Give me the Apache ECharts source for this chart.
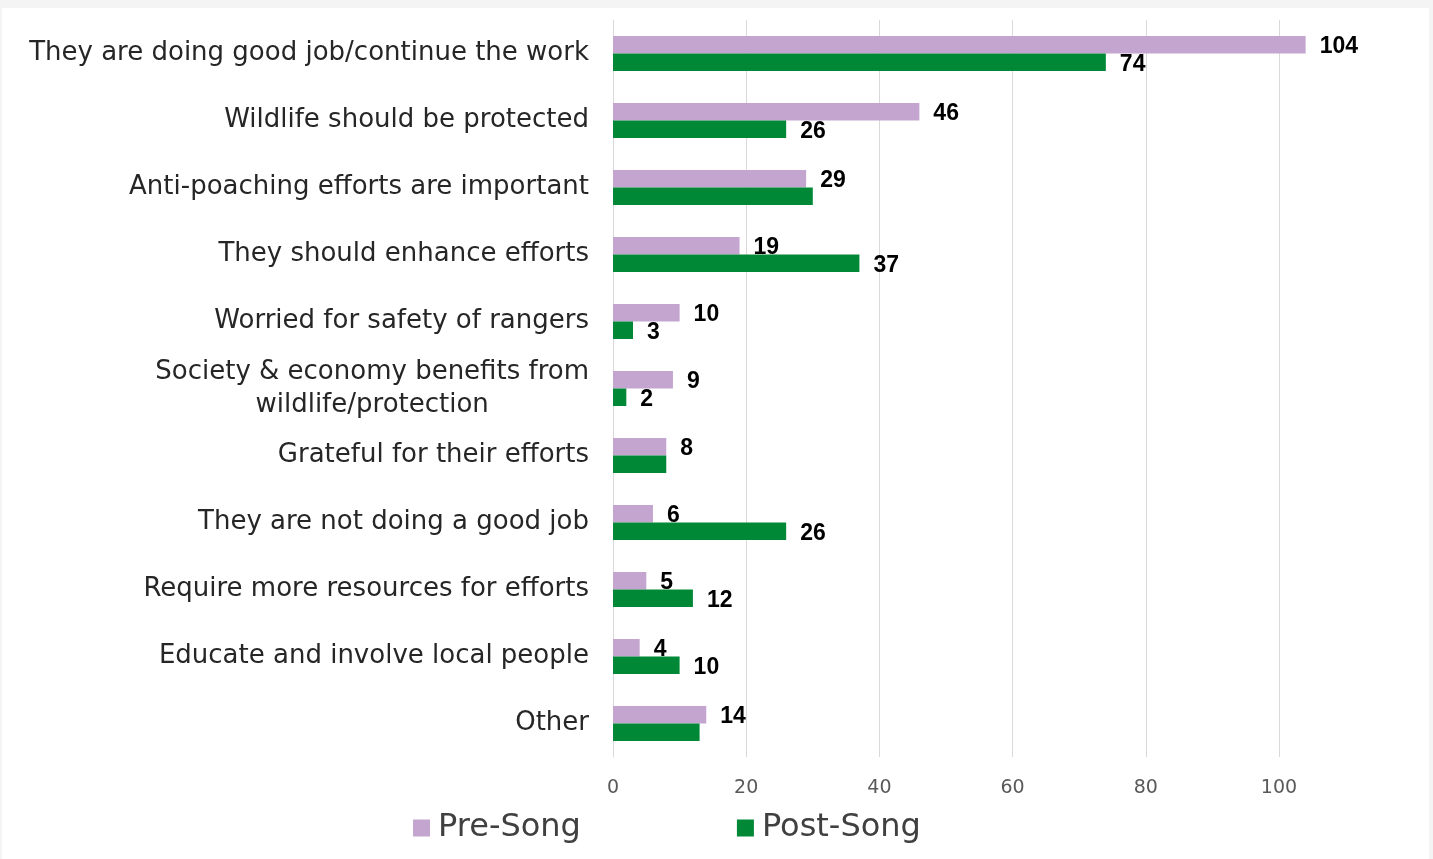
<!DOCTYPE html>
<html>
<head>
<meta charset="utf-8">
<script src="https://cdn.jsdelivr.net/npm/echarts@6/dist/echarts.min.js"></script>
<style>
html,body{margin:0;padding:0;background:#f4f4f4;width:1433px;height:859px;overflow:hidden;}
#chart{position:absolute;left:2px;top:8px;width:1427px;height:851px;background:#ffffff;}
</style>
</head>
<body>
<div id="chart"></div>
<script>
const categories = [
  'They are doing good job/continue the work',
  'Wildlife should be protected',
  'Anti-poaching efforts are important',
  'They should enhance efforts',
  'Worried for safety of rangers',
  'Society & economy benefits from\nwildlife/protection',
  'Grateful for their efforts',
  'They are not doing a good job',
  'Require more resources for efforts',
  'Educate and involve local people',
  'Other'
];
const preSong = [104, 46, 29, 19, 10, 9, 8, 6, 5, 4, 14];
const postSong = [74, 26, 30, 37, 3, 2, 8, 26, 12, 10, 13];
const postHiddenLabels = [2, 6, 10];
const xTicks = [0, 20, 40, 60, 80, 100];

const FONT = "'DejaVu Sans', 'Noto Sans', sans-serif";
const chart = echarts.init(document.getElementById('chart'));

const labelStyle = {
  show: true, position: 'right', distance: 14,
  fontFamily: "'Liberation Sans', Arial, sans-serif", fontWeight: 'bold',
  fontSize: 23, color: '#000000', offset: [0, 2]
};

chart.setOption({
  animation: false,
  grid: {left: 611, top: 12, width: 666, height: 737, containLabel: false},
  legend: {
    left: 411, top: 804, padding: 0, itemWidth: 17, itemHeight: 17, itemGap: 156,
    icon: 'rect',
    textStyle: {fontFamily: FONT, fontSize: 32, color: '#404040', padding: [0, 0, 0, 3]},
    data: ['Pre-Song', 'Post-Song']
  },
  xAxis: {
    type: 'value', min: xTicks[0], max: xTicks[xTicks.length - 1],
    interval: xTicks[1] - xTicks[0],
    axisLine: {show: false}, axisTick: {show: false},
    splitLine: {show: true, lineStyle: {color: '#d9d9d9', width: 1}},
    axisLabel: {margin: 22, fontFamily: FONT, fontSize: 19, color: '#595959'}
  },
  yAxis: {
    type: 'category', data: categories, inverse: true,
    axisLine: {show: true, lineStyle: {color: '#d9d9d9'}},
    axisTick: {show: false},
    axisLabel: {
      margin: 24, fontFamily: FONT, fontSize: 26, color: '#262626', align: 'right',
      formatter: function (v) {
        return v.split('\n').map(function (s) { return '{c|' + s + '}'; }).join('\n');
      },
      rich: {c: {align: 'center', fontFamily: FONT, fontSize: 26, color: '#262626', lineHeight: 33}}
    }
  },
  series: [
    {
      name: 'Pre-Song', type: 'bar', data: preSong, barWidth: 17.5, barGap: '0%',
      clip: false,
      itemStyle: {color: '#c3a5cf'},
      label: labelStyle
    },
    {
      name: 'Post-Song', type: 'bar',
      data: postSong.map(function (v, i) {
        return postHiddenLabels.indexOf(i) >= 0 ? {value: v, label: {show: false}} : v;
      }),
      barWidth: 17.5, barGap: '0%', clip: false,
      itemStyle: {color: '#008837'},
      label: labelStyle
    }
  ]
});
</script>
</body>
</html>
